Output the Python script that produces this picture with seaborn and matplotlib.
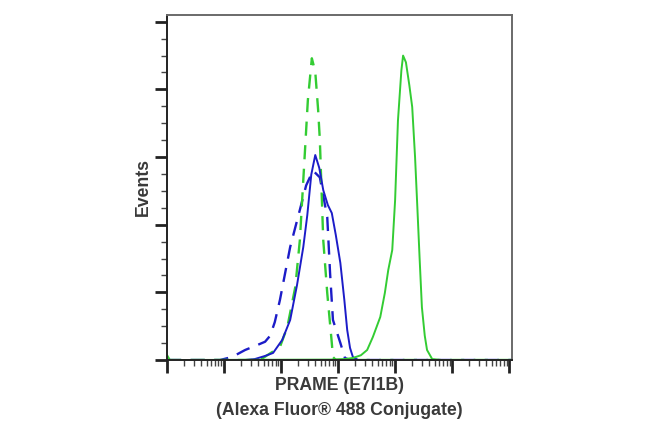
import numpy as np
import pandas as pd
import matplotlib
matplotlib.use("Agg")
import matplotlib.pyplot as plt
import seaborn as sns
from matplotlib import font_manager
from matplotlib.ticker import LogLocator, NullFormatter, FixedLocator

# ---- data (x in log10 fluorescence units, y in events) ----
green_solid_log = [0.0, 0.05, 0.2, 2.86, 3.12, 3.26, 3.4, 3.51, 3.61, 3.74, 3.82, 3.88, 3.95,
                   4.0, 4.05, 4.11, 4.14, 4.19, 4.25, 4.30, 4.35, 4.39, 4.43, 4.47, 4.52,
                   4.56, 4.65, 4.79, 6.05]
green_solid_ev = [3.7, 0, 0, 0.3, 0.7, 1.5, 3.5, 7.4, 17, 31.8, 49.5, 66.5, 81.3,
                  118, 177, 214, 225, 220, 203, 187, 150, 113, 75, 39, 18,
                  7.4, 0.7, 0, 0]

blue_solid_log = [0.0, 1.37, 1.54, 1.72, 1.86, 2.02, 2.16, 2.28, 2.39, 2.46, 2.53, 2.60,
                  2.67, 2.74, 2.82, 2.89, 2.96, 3.04, 3.11, 3.16, 3.21, 3.26, 3.35, 6.05]
blue_solid_ev = [0, 0, 0.7, 3, 5.2, 14.8, 29.6, 55.4, 83.5, 107, 137, 151.5,
                 142, 125.6, 114.6, 108.6, 92.4, 71.7, 44.3, 22.2, 8.9, 2.2, 0, 0]

green_dash_log = [0.0, 1.63, 1.98, 2.11, 2.25, 2.33, 2.42, 2.47, 2.54, 2.60, 2.65,
                  2.68, 2.74, 2.81, 2.89, 2.91, 2.96, 6.05]
green_dash_ev = [0, 0, 9.6, 24.4, 54, 88.7, 155, 192, 223, 213, 185,
                 163, 88.7, 49.5, 12.6, 2.2, 0, 0]

blue_dash_log = [0.0, 0.93, 1.14, 1.37, 1.58, 1.72, 1.81, 1.89, 1.98, 2.16, 2.33, 2.44, 2.56,
                 2.68, 2.81, 2.86, 2.91, 3.04, 3.12, 3.21, 6.05]
blue_dash_ev = [0, 0, 2.2, 7.4, 11, 13.5, 18, 28, 44.3, 83.5, 111, 129, 140,
                135, 105.7, 64, 29.6, 12.6, 1.5, 0, 0]

xlabel_lines = ["PRAME (E7I1B)", "(Alexa Fluor\u00ae 488 Conjugate)"]
ylabel_text = "Events"

GREEN = "#33cc33"
BLUE = "#1c1cc8"
TEXT = "#3a3a3a"

sns.set_style("white")
names = {f.name for f in font_manager.fontManager.ttflist}
if "Liberation Sans Narrow" in names:
    fam = ["Liberation Sans Narrow", "DejaVu Sans"]
    fsize = 15
else:
    fam = ["Liberation Sans", "DejaVu Sans"]
    fsize = 12.7
plt.rcParams["font.family"] = fam

fig = plt.figure(figsize=(6.5, 4.38), dpi=100)
ax = fig.add_axes([167/650, 1-360/438, (512-167)/650, (360-15)/438])

def curve(xlog, ev, color, dashed):
    df = pd.DataFrame({"x": np.power(10.0, xlog), "y": ev})
    sns.lineplot(data=df, x="x", y="y", ax=ax, color=color, lw=1.7 if dashed else 1.4,
                 estimator=None, sort=False, dashes=False)
    line = ax.lines[-1]
    line.set_solid_joinstyle("round")
    line.set_dash_joinstyle("round")
    if dashed:
        line.set_dashes((6, 4))
    return line

curve(blue_dash_log, blue_dash_ev, BLUE, True)
curve(green_dash_log, green_dash_ev, GREEN, True)
curve(blue_solid_log, blue_solid_ev, BLUE, False)
curve(green_solid_log, green_solid_ev, GREEN, False)

ax.set_xscale("log")
ax.set_xlim(1, 10**6.05)
ax.set_ylim(0, 255)
ax.xaxis.set_major_locator(FixedLocator([10.0**k for k in range(7)]))
ax.xaxis.set_minor_locator(LogLocator(base=10, subs=np.arange(2, 10), numticks=20))
ax.xaxis.set_major_formatter(NullFormatter())
ax.xaxis.set_minor_formatter(NullFormatter())
ax.set_yticks([0, 50, 100, 150, 200, 250])
ax.set_yticks(np.arange(0, 251, 12.5), minor=True)
ax.set_yticklabels([])

ax.tick_params(axis="both", which="major", direction="out", length=9, width=2, color="#222222")
ax.tick_params(axis="both", which="minor", direction="out", length=4.5, width=1, color="#444444")
ax.tick_params(left=True, bottom=True, top=False, right=False, which="both")

for side in ["left", "bottom"]:
    ax.spines[side].set_color("#222222")
    ax.spines[side].set_linewidth(1.4)
for side in ["top", "right"]:
    ax.spines[side].set_color("#6a6a6a")
    ax.spines[side].set_linewidth(1.4)

ax.set_xlabel("\n".join(xlabel_lines), fontsize=fsize, fontweight="bold", color=TEXT,
              labelpad=0, linespacing=1.55)
ax.set_ylabel(ylabel_text, fontsize=fsize, fontweight="bold", color=TEXT, labelpad=-1.5)

fig.savefig("out.png", dpi=100, facecolor="white")
